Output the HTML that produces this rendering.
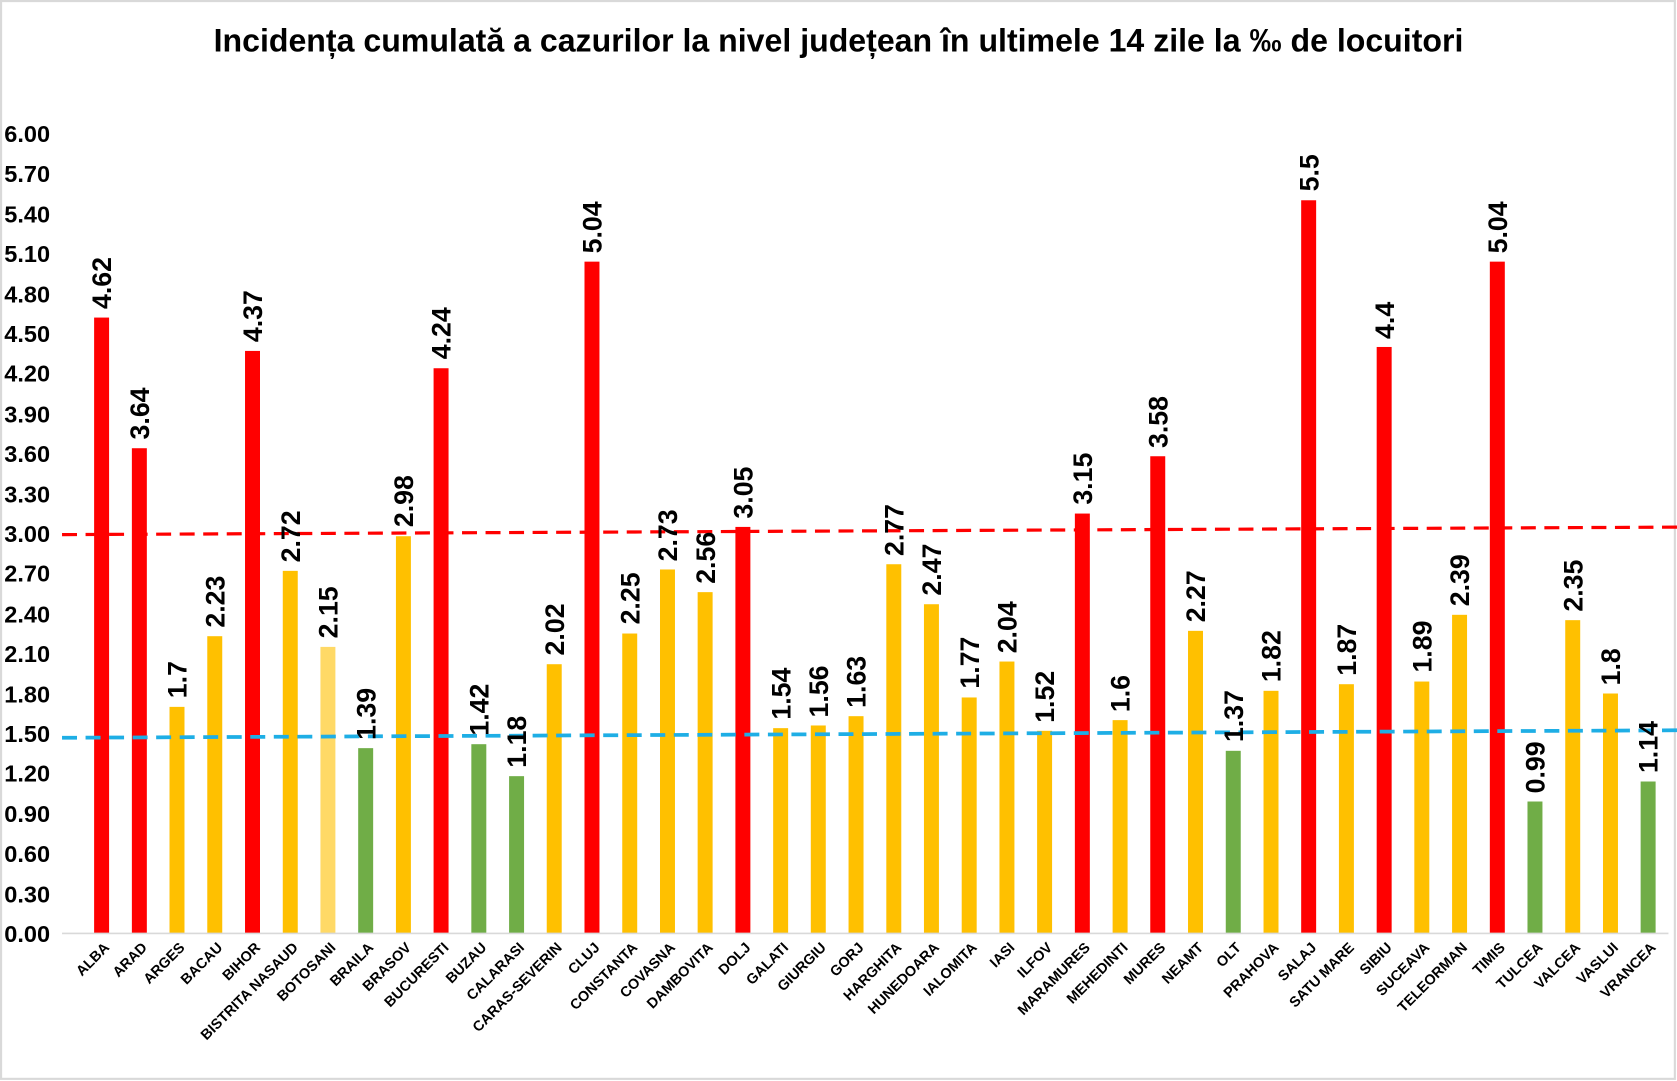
<!DOCTYPE html>
<html><head><meta charset="utf-8"><style>
html,body{margin:0;padding:0;background:#fff;}
svg{display:block;}
text{font-family:"Liberation Sans",sans-serif;font-weight:bold;fill:#000;}
.v{font-size:25px;}
.c{font-size:13.5px;}
.t{font-size:22px;}
</style></head><body>
<svg width="1677" height="1081" viewBox="0 0 1568 1011" preserveAspectRatio="none" xmlns="http://www.w3.org/2000/svg">
<rect x="1" y="1" width="1565" height="1008" fill="#fff" stroke="#d9d9d9" stroke-width="2"/>
<text x="784" y="48" text-anchor="middle" style="font-size:30px">Incidența cumulată a cazurilor la nivel județean în ultimele 14 zile la ‰ de locuitori</text>
<g class="t">
<text x="4" y="133" class="t">6.00</text><text x="4" y="170" class="t">5.70</text><text x="4" y="208" class="t">5.40</text><text x="4" y="245" class="t">5.10</text><text x="4" y="283" class="t">4.80</text><text x="4" y="320" class="t">4.50</text><text x="4" y="357" class="t">4.20</text><text x="4" y="395" class="t">3.90</text><text x="4" y="432" class="t">3.60</text><text x="4" y="470" class="t">3.30</text><text x="4" y="507" class="t">3.00</text><text x="4" y="544" class="t">2.70</text><text x="4" y="582" class="t">2.40</text><text x="4" y="619" class="t">2.10</text><text x="4" y="657" class="t">1.80</text><text x="4" y="694" class="t">1.50</text><text x="4" y="731" class="t">1.20</text><text x="4" y="769" class="t">0.90</text><text x="4" y="806" class="t">0.60</text><text x="4" y="844" class="t">0.30</text><text x="4" y="881" class="t">0.00</text>
</g>
<g>
<rect x="88" y="297" width="14" height="576" fill="#FF0000"/>
<rect x="123.3" y="419.2" width="14" height="453.8" fill="#FF0000"/>
<rect x="158.5" y="661.1" width="14" height="211.9" fill="#FFC000"/>
<rect x="193.8" y="595" width="14" height="278" fill="#FFC000"/>
<rect x="229.1" y="328.2" width="14" height="544.8" fill="#FF0000"/>
<rect x="264.4" y="533.9" width="14" height="339.1" fill="#FFC000"/>
<rect x="299.6" y="605" width="14" height="268" fill="#FFD966"/>
<rect x="334.9" y="699.7" width="14" height="173.3" fill="#70AD47"/>
<rect x="370.2" y="501.5" width="14" height="371.5" fill="#FFC000"/>
<rect x="405.4" y="344.4" width="14" height="528.6" fill="#FF0000"/>
<rect x="440.7" y="696" width="14" height="177" fill="#70AD47"/>
<rect x="476" y="725.9" width="14" height="147.1" fill="#70AD47"/>
<rect x="511.2" y="621.2" width="14" height="251.8" fill="#FFC000"/>
<rect x="546.5" y="244.7" width="14" height="628.3" fill="#FF0000"/>
<rect x="581.8" y="592.5" width="14" height="280.5" fill="#FFC000"/>
<rect x="617.1" y="532.6" width="14" height="340.4" fill="#FFC000"/>
<rect x="652.3" y="553.8" width="14" height="319.2" fill="#FFC000"/>
<rect x="687.6" y="492.8" width="14" height="380.2" fill="#FF0000"/>
<rect x="722.9" y="681" width="14" height="192" fill="#FFC000"/>
<rect x="758.1" y="678.5" width="14" height="194.5" fill="#FFC000"/>
<rect x="793.4" y="669.8" width="14" height="203.2" fill="#FFC000"/>
<rect x="828.7" y="527.7" width="14" height="345.3" fill="#FFC000"/>
<rect x="863.9" y="565.1" width="14" height="307.9" fill="#FFC000"/>
<rect x="899.2" y="652.3" width="14" height="220.7" fill="#FFC000"/>
<rect x="934.5" y="618.7" width="14" height="254.3" fill="#FFC000"/>
<rect x="969.7" y="683.5" width="14" height="189.5" fill="#FFC000"/>
<rect x="1005" y="480.3" width="14" height="392.7" fill="#FF0000"/>
<rect x="1040.3" y="673.5" width="14" height="199.5" fill="#FFC000"/>
<rect x="1075.5" y="426.7" width="14" height="446.3" fill="#FF0000"/>
<rect x="1110.8" y="590" width="14" height="283" fill="#FFC000"/>
<rect x="1146.1" y="702.2" width="14" height="170.8" fill="#70AD47"/>
<rect x="1181.4" y="646.1" width="14" height="226.9" fill="#FFC000"/>
<rect x="1216.6" y="187.3" width="14" height="685.7" fill="#FF0000"/>
<rect x="1251.9" y="639.9" width="14" height="233.1" fill="#FFC000"/>
<rect x="1287.2" y="324.5" width="14" height="548.5" fill="#FF0000"/>
<rect x="1322.4" y="637.4" width="14" height="235.6" fill="#FFC000"/>
<rect x="1357.7" y="575" width="14" height="298" fill="#FFC000"/>
<rect x="1393" y="244.7" width="14" height="628.3" fill="#FF0000"/>
<rect x="1428.2" y="749.6" width="14" height="123.4" fill="#70AD47"/>
<rect x="1463.5" y="580" width="14" height="293" fill="#FFC000"/>
<rect x="1498.8" y="648.6" width="14" height="224.4" fill="#FFC000"/>
<rect x="1534" y="730.9" width="14" height="142.1" fill="#70AD47"/>
</g>
<line x1="58" y1="873" x2="1560" y2="873" stroke="#d9d9d9" stroke-width="1.5"/>
<line x1="58" y1="500" x2="1568" y2="493" stroke="#FF0000" stroke-width="3" stroke-dasharray="14,8"/>
<line x1="58" y1="690" x2="1568" y2="683" stroke="#1EAEE5" stroke-width="3.5" stroke-dasharray="14,8"/>
<g class="v">
<text class="v" transform="translate(104,289) rotate(-90)">4.62</text>
<text class="v" transform="translate(139.3,411) rotate(-90)">3.64</text>
<text class="v" transform="translate(174.5,653) rotate(-90)">1.7</text>
<text class="v" transform="translate(209.8,587) rotate(-90)">2.23</text>
<text class="v" transform="translate(245.1,320) rotate(-90)">4.37</text>
<text class="v" transform="translate(280.4,526) rotate(-90)">2.72</text>
<text class="v" transform="translate(315.6,597) rotate(-90)">2.15</text>
<text class="v" transform="translate(350.9,692) rotate(-90)">1.39</text>
<text class="v" transform="translate(386.2,493) rotate(-90)">2.98</text>
<text class="v" transform="translate(421.4,336) rotate(-90)">4.24</text>
<text class="v" transform="translate(456.7,688) rotate(-90)">1.42</text>
<text class="v" transform="translate(492,718) rotate(-90)">1.18</text>
<text class="v" transform="translate(527.2,613) rotate(-90)">2.02</text>
<text class="v" transform="translate(562.5,237) rotate(-90)">5.04</text>
<text class="v" transform="translate(597.8,584) rotate(-90)">2.25</text>
<text class="v" transform="translate(633.1,525) rotate(-90)">2.73</text>
<text class="v" transform="translate(668.3,546) rotate(-90)">2.56</text>
<text class="v" transform="translate(703.6,485) rotate(-90)">3.05</text>
<text class="v" transform="translate(738.9,673) rotate(-90)">1.54</text>
<text class="v" transform="translate(774.1,671) rotate(-90)">1.56</text>
<text class="v" transform="translate(809.4,662) rotate(-90)">1.63</text>
<text class="v" transform="translate(844.7,520) rotate(-90)">2.77</text>
<text class="v" transform="translate(879.9,557) rotate(-90)">2.47</text>
<text class="v" transform="translate(915.2,644) rotate(-90)">1.77</text>
<text class="v" transform="translate(950.5,611) rotate(-90)">2.04</text>
<text class="v" transform="translate(985.7,676) rotate(-90)">1.52</text>
<text class="v" transform="translate(1021,472) rotate(-90)">3.15</text>
<text class="v" transform="translate(1056.3,666) rotate(-90)">1.6</text>
<text class="v" transform="translate(1091.5,419) rotate(-90)">3.58</text>
<text class="v" transform="translate(1126.8,582) rotate(-90)">2.27</text>
<text class="v" transform="translate(1162.1,694) rotate(-90)">1.37</text>
<text class="v" transform="translate(1197.4,638) rotate(-90)">1.82</text>
<text class="v" transform="translate(1232.6,179) rotate(-90)">5.5</text>
<text class="v" transform="translate(1267.9,632) rotate(-90)">1.87</text>
<text class="v" transform="translate(1303.2,317) rotate(-90)">4.4</text>
<text class="v" transform="translate(1338.4,629) rotate(-90)">1.89</text>
<text class="v" transform="translate(1373.7,567) rotate(-90)">2.39</text>
<text class="v" transform="translate(1409,237) rotate(-90)">5.04</text>
<text class="v" transform="translate(1444.2,742) rotate(-90)">0.99</text>
<text class="v" transform="translate(1479.5,572) rotate(-90)">2.35</text>
<text class="v" transform="translate(1514.8,641) rotate(-90)">1.8</text>
<text class="v" transform="translate(1550,723) rotate(-90)">1.14</text>
</g>
<g class="c" text-anchor="end">
<text class="c" transform="translate(103,887) rotate(-45)">ALBA</text>
<text class="c" transform="translate(138.3,887) rotate(-45)">ARAD</text>
<text class="c" transform="translate(173.5,887) rotate(-45)">ARGES</text>
<text class="c" transform="translate(208.8,887) rotate(-45)">BACAU</text>
<text class="c" transform="translate(244.1,887) rotate(-45)">BIHOR</text>
<text class="c" transform="translate(279.4,887) rotate(-45)">BISTRITA NASAUD</text>
<text class="c" transform="translate(314.6,887) rotate(-45)">BOTOSANI</text>
<text class="c" transform="translate(349.9,887) rotate(-45)">BRAILA</text>
<text class="c" transform="translate(385.2,887) rotate(-45)">BRASOV</text>
<text class="c" transform="translate(420.4,887) rotate(-45)">BUCURESTI</text>
<text class="c" transform="translate(455.7,887) rotate(-45)">BUZAU</text>
<text class="c" transform="translate(491,887) rotate(-45)">CALARASI</text>
<text class="c" transform="translate(526.2,887) rotate(-45)">CARAS-SEVERIN</text>
<text class="c" transform="translate(561.5,887) rotate(-45)">CLUJ</text>
<text class="c" transform="translate(596.8,887) rotate(-45)">CONSTANTA</text>
<text class="c" transform="translate(632.1,887) rotate(-45)">COVASNA</text>
<text class="c" transform="translate(667.3,887) rotate(-45)">DAMBOVITA</text>
<text class="c" transform="translate(702.6,887) rotate(-45)">DOLJ</text>
<text class="c" transform="translate(737.9,887) rotate(-45)">GALATI</text>
<text class="c" transform="translate(773.1,887) rotate(-45)">GIURGIU</text>
<text class="c" transform="translate(808.4,887) rotate(-45)">GORJ</text>
<text class="c" transform="translate(843.7,887) rotate(-45)">HARGHITA</text>
<text class="c" transform="translate(878.9,887) rotate(-45)">HUNEDOARA</text>
<text class="c" transform="translate(914.2,887) rotate(-45)">IALOMITA</text>
<text class="c" transform="translate(949.5,887) rotate(-45)">IASI</text>
<text class="c" transform="translate(984.7,887) rotate(-45)">ILFOV</text>
<text class="c" transform="translate(1020,887) rotate(-45)">MARAMURES</text>
<text class="c" transform="translate(1055.3,887) rotate(-45)">MEHEDINTI</text>
<text class="c" transform="translate(1090.5,887) rotate(-45)">MURES</text>
<text class="c" transform="translate(1125.8,887) rotate(-45)">NEAMT</text>
<text class="c" transform="translate(1161.1,887) rotate(-45)">OLT</text>
<text class="c" transform="translate(1196.4,887) rotate(-45)">PRAHOVA</text>
<text class="c" transform="translate(1231.6,887) rotate(-45)">SALAJ</text>
<text class="c" transform="translate(1266.9,887) rotate(-45)">SATU MARE</text>
<text class="c" transform="translate(1302.2,887) rotate(-45)">SIBIU</text>
<text class="c" transform="translate(1337.4,887) rotate(-45)">SUCEAVA</text>
<text class="c" transform="translate(1372.7,887) rotate(-45)">TELEORMAN</text>
<text class="c" transform="translate(1408,887) rotate(-45)">TIMIS</text>
<text class="c" transform="translate(1443.2,887) rotate(-45)">TULCEA</text>
<text class="c" transform="translate(1478.5,887) rotate(-45)">VALCEA</text>
<text class="c" transform="translate(1513.8,887) rotate(-45)">VASLUI</text>
<text class="c" transform="translate(1549,887) rotate(-45)">VRANCEA</text>
</g>
</svg>
</body></html>
